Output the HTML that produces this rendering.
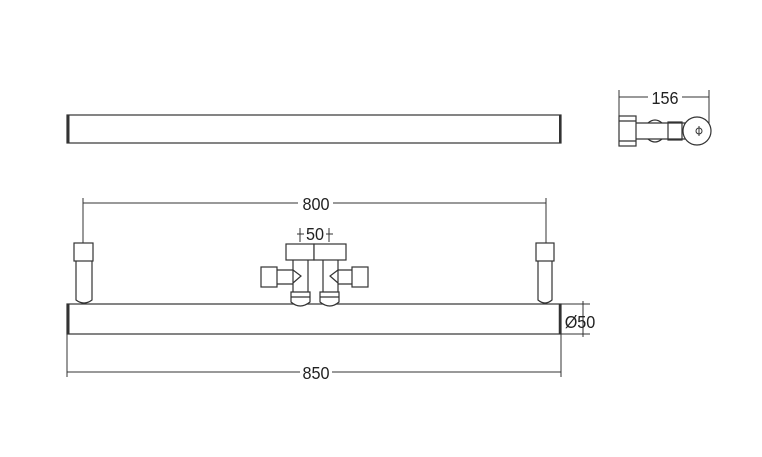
<!DOCTYPE html>
<html><head><style>body{margin:0;background:#fff}svg{display:block}</style></head><body>
<svg width="762" height="457" viewBox="0 0 762 457" xmlns="http://www.w3.org/2000/svg" font-family="Liberation Sans, sans-serif">
<g fill="none" stroke="#333" stroke-width="1.2">
<rect x="67" y="115" width="494" height="28" fill="#fff"/>
<line x1="68" y1="115" x2="68" y2="143" stroke-width="3"/>
<line x1="560" y1="115" x2="560" y2="143" stroke-width="2"/>
<rect x="67" y="304" width="494" height="30" fill="#fff"/>
<line x1="68" y1="304" x2="68" y2="334" stroke-width="3"/>
<line x1="560" y1="304" x2="560" y2="334" stroke-width="2.5"/>
<line x1="67" y1="334" x2="67" y2="377" stroke-width="1"/>
<line x1="561" y1="334" x2="561" y2="377" stroke-width="1"/>
<line x1="67" y1="372" x2="300" y2="372" stroke-width="1"/>
<line x1="332" y1="372" x2="561" y2="372" stroke-width="1"/>
<rect x="74" y="243" width="19" height="18"/>
<path d="M76 261 V300 Q84 306 92 300 V261"/>
<rect x="536" y="243" width="18" height="18"/>
<path d="M538 261 V300 Q545 306 552 300 V261"/>
<line x1="83" y1="198" x2="83" y2="243" stroke-width="1"/>
<line x1="546" y1="198" x2="546" y2="243" stroke-width="1"/>
<line x1="83" y1="203" x2="298" y2="203" stroke-width="1"/>
<line x1="333" y1="203" x2="546" y2="203" stroke-width="1"/>
<line x1="561" y1="304" x2="590" y2="304" stroke-width="1"/>
<line x1="561" y1="334" x2="590" y2="334" stroke-width="1"/>
<line x1="583" y1="301" x2="583" y2="337" stroke-width="1"/>
<rect x="286" y="244" width="28" height="16" fill="#fff"/>
<rect x="314" y="244" width="32" height="16" fill="#fff"/>
<path d="M293 260 V292 M308 260 V292"/>
<path d="M323 260 V292 M338 260 V292"/>
<path d="M293 270 L301 276 L293 283"/>
<path d="M338 270 L330 276 L338 283"/>
<rect x="261" y="267" width="16" height="20" fill="#fff"/>
<path d="M277 270 H293 M277 284 H293"/>
<rect x="352" y="267" width="16" height="20" fill="#fff"/>
<path d="M338 270 H352 M338 284 H352"/>
<path d="M291 292 H310 V302 Q300 310 291 302 Z" fill="#fff"/>
<path d="M291 297 H310"/>
<path d="M320 292 H339 V302 Q330 310 320 302 Z" fill="#fff"/>
<path d="M320 297 H339"/>
<line x1="300" y1="228" x2="300" y2="242" stroke-width="1"/>
<line x1="329" y1="228" x2="329" y2="242" stroke-width="1"/>
<line x1="297" y1="234" x2="304" y2="234" stroke-width="1"/>
<line x1="326" y1="234" x2="333" y2="234" stroke-width="1"/>
<line x1="619" y1="90" x2="619" y2="118" stroke-width="1"/>
<line x1="709" y1="90" x2="709" y2="128" stroke-width="1"/>
<line x1="619" y1="97" x2="648" y2="97" stroke-width="1"/>
<line x1="682" y1="97" x2="709" y2="97" stroke-width="1"/>
<rect x="619" y="116" width="17" height="30" fill="#fff"/>
<path d="M619 121 H636 M619 141 H636"/>
<path d="M636 123 H686 M636 139 H686"/>
<path d="M648 123 Q655 117 662 123 M648 139 Q655 145 662 139"/>
<rect x="668" y="122" width="14" height="18"/>
<circle cx="697" cy="131" r="14" fill="#fff"/>
<circle cx="699" cy="131" r="3" stroke-width="1"/>
<line x1="699" y1="126" x2="699" y2="136" stroke-width="1"/>
</g>
<g fill="#222" font-size="18" text-anchor="middle">
<text x="316" y="210" transform="translate(316 0) scale(0.9 1) translate(-316 0)">800</text>
<text x="316" y="379" transform="translate(316 0) scale(0.9 1) translate(-316 0)">850</text>
<text x="315" y="240" transform="translate(315 0) scale(0.9 1) translate(-315 0)">50</text>
<text x="580" y="328" transform="translate(580 0) scale(0.9 1) translate(-580 0)">Ø50</text>
<text x="665" y="104" transform="translate(665 0) scale(0.9 1) translate(-665 0)">156</text>
</g>
</svg>
</body></html>
